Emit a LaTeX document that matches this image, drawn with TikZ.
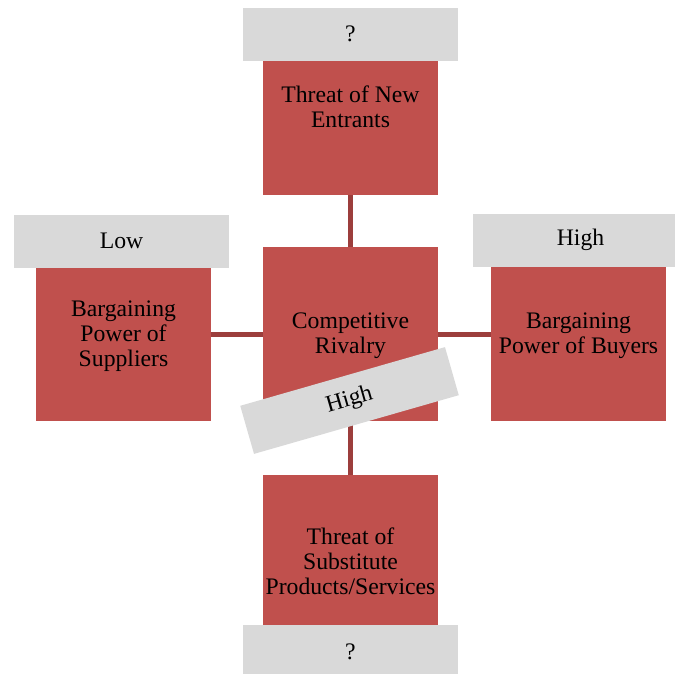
\documentclass[tikz,border=0pt]{standalone}
\usepackage{fontspec}
\setmainfont{Liberation Serif}
\usetikzlibrary{positioning}
\definecolor{forcered}{HTML}{C0504D}
\definecolor{tagfill}{HTML}{D9D9D9}
\definecolor{linkred}{HTML}{9C3E3C}
\newcommand{\forcefont}{\fontsize{23.7}{25}\selectfont}

\begin{document}
\begin{tikzpicture}[
			x=1pt, y=-1pt,
			force/.style={rectangle, fill=forcered, minimum width=175pt, inner sep=0pt},
			tag/.style={rectangle, fill=tagfill, minimum width=215pt, minimum height=53pt, inner sep=0pt, font=\forcefont},
			caption/.style={align=center, anchor=north, inner sep=0pt, font=\forcefont},
			link/.style={draw=linkred, line width=5pt},
			]
			\useasboundingbox (0,0) rectangle (675,674);
			% the five forces
			\node [force, minimum height=134pt] (entrants) at (350.5,128) {};
			\node [force, minimum height=174pt] (rivalry) at (350.5,334) {};
			\node [force, minimum height=153pt] (suppliers) at (123.5,344.5) {};
			\node [force, minimum height=154pt] (buyers) at (578.5,344) {};
			\node [force, minimum height=150pt] (substitutes) at (350.5,550) {};
			\node [caption] (entrants-text) at (350.5,85.5) {Threat of New\\Entrants};
			\node [caption] (rivalry-text) at (350.5,312.5) {Competitive\\Rivalry};
			\node [caption] (suppliers-text) at (123.5,301) {Bargaining\\Power of\\Suppliers};
			\node [caption] (buyers-text) at (578.5,312.5) {Bargaining\\Power of Buyers};
			\node [caption] (substitutes-text) at (350.5,527.5) {Threat of\\Substitute\\Products/Services};
			% ratings
			\node [tag, above=0pt of entrants] (entrants-tag) {?};
			\node [tag, above=0pt of suppliers, xshift=-2pt] (suppliers-tag) {Low};
			\node [tag, above=0pt of buyers, xshift=2pt] (buyers-tag) {High};
			\node [tag, below=0pt of substitutes] (substitutes-tag) {?};
			% links to the centre
			\draw [link] (entrants) -- (rivalry);
			\draw [link] (rivalry) -- (substitutes);
			\draw [link] (rivalry.west) -- (rivalry.west -| suppliers.east);
			\draw [link] (rivalry.east) -- (rivalry.east -| buyers.west);
			\node [tag, minimum width=213pt, minimum height=50pt, rotate=16] (rivalry-tag) at (349.5,400.5) {High};
		\end{tikzpicture}
\end{document}
